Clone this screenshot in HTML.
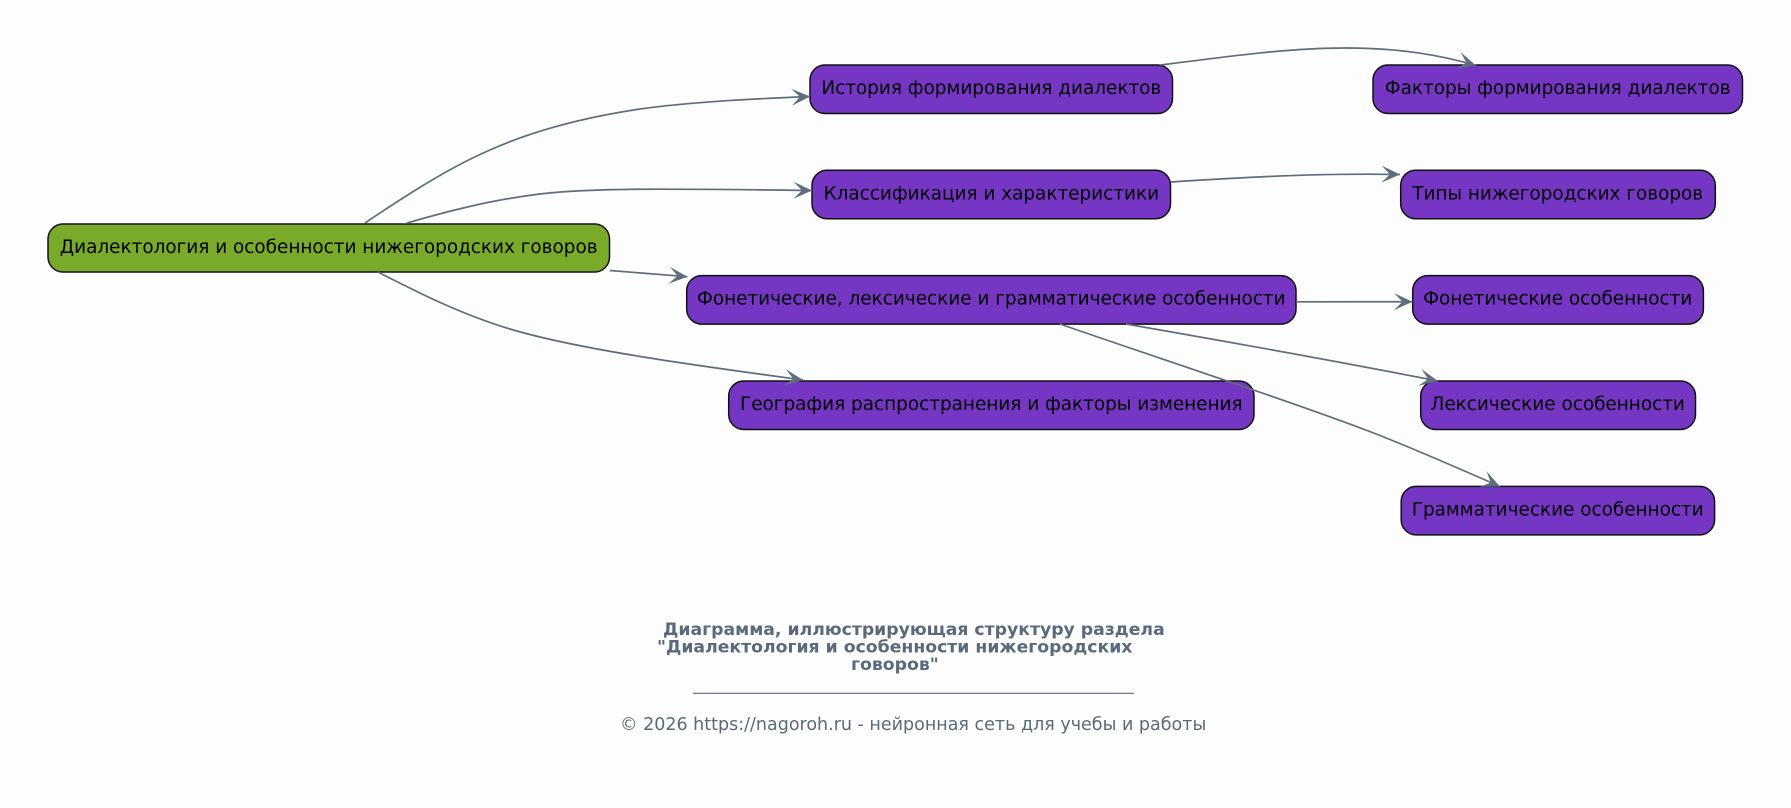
<!DOCTYPE html>
<html><head><meta charset="utf-8"><style>
html,body{margin:0;padding:0;background:#fdfdfd;width:1791px;height:808px;overflow:hidden}
svg{display:block}
.n{fill:#7636c4;stroke:#111;stroke-width:1.5}
.t{font-family:"DejaVu Sans",sans-serif;font-size:18.42px;fill:#000;text-anchor:middle}
.e{fill:none;stroke:#5f6e7d;stroke-width:1.7;marker-end:url(#a)}
.c{font-family:"DejaVu Sans",sans-serif;fill:#5a6a7c}
</style></head><body>
<svg width="1791" height="808" viewBox="0 0 1791 808" xmlns="http://www.w3.org/2000/svg">
<defs><marker id="a" markerUnits="userSpaceOnUse" markerWidth="26" markerHeight="24" refX="22" refY="12" orient="auto"><path d="M22,12 L3.5,3.5 L12,12 L3.5,20.5 Z" fill="#5f6e7d"/></marker></defs>
<rect width="1791" height="808" fill="#fdfdfd"/>
<rect class="n" x="48" y="224" width="561.5" height="48" rx="15" style="fill:#7aaa2a"/>
<rect class="n" x="810" y="65" width="362.5" height="48.5" rx="15"/>
<rect class="n" x="812" y="170.3" width="358.5" height="48.5" rx="15"/>
<rect class="n" x="686.7" y="275.6" width="609.3" height="48.5" rx="15"/>
<rect class="n" x="728.7" y="381" width="525.3" height="48.5" rx="15"/>
<rect class="n" x="1373" y="65" width="369.5" height="48.5" rx="15"/>
<rect class="n" x="1400.7" y="170.3" width="314.6" height="48.5" rx="15"/>
<rect class="n" x="1412.7" y="275.6" width="290.7" height="48.5" rx="15"/>
<rect class="n" x="1420.7" y="381" width="274.8" height="48.5" rx="15"/>
<rect class="n" x="1401.2" y="486.4" width="313.4" height="48.5" rx="15"/>
<text class="t" x="328.7" y="253">Диалектология и особенности нижегородских говоров</text>
<text class="t" x="991.3" y="94">История формирования диалектов</text>
<text class="t" x="991.3" y="199.3">Классификация и характеристики</text>
<text class="t" x="991.3" y="304.6">Фонетические, лексические и грамматические особенности</text>
<text class="t" x="991.3" y="410">География распространения и факторы изменения</text>
<text class="t" x="1557.7" y="94">Факторы формирования диалектов</text>
<text class="t" x="1557.7" y="199.3">Типы нижегородских говоров</text>
<text class="t" x="1557.7" y="304.6">Фонетические особенности</text>
<text class="t" x="1557.7" y="410">Лексические особенности</text>
<text class="t" x="1557.7" y="515.4">Грамматические особенности</text>
<path class="e" d="M365,223 C405,196 450,167 490,150 C530,132 580,118 640,109 C690,102 750,99 810,96.5"/>
<path class="e" d="M407,223 C445,212 490,200 540,194 C590,188 660,188.5 812,190.5"/>
<path class="e" d="M610,270.5 L687.5,276.7"/>
<path class="e" d="M378,272 C415,291 460,314 510,329 C580,350 700,366 803,380"/>
<path class="e" d="M1161,65 C1230,56 1290,48 1345,48 C1400,48 1440,55 1476,65.5"/>
<path class="e" d="M1171,182 C1250,177 1320,173 1400,174.5"/>
<path class="e" d="M1296,301.8 C1340,302 1370,301.5 1412.5,301.8"/>
<path class="e" d="M1126,324 C1230,342 1330,360 1438,381"/>
<path class="e" d="M1060,324 C1140,352 1290,401 1371,432 C1415,449 1460,469 1500,486.5"/>
<text class="c" x="663" y="635" font-size="17.26" font-weight="700">Диаграмма, иллюстрирующая структуру раздела</text>
<text class="c" x="657" y="652.5" font-size="17.26" font-weight="700">"Диалектология и особенности нижегородских</text>
<text class="c" x="851" y="670" font-size="17.26" font-weight="700">говоров"</text>
<line x1="693" y1="693.3" x2="1134" y2="693.3" stroke="#5a6a7c" stroke-width="1.2"/>
<text class="c" x="620" y="730" font-size="17.5">© 2026 https://nagoroh.ru - нейронная сеть для учебы и работы</text>
</svg>
</body></html>
